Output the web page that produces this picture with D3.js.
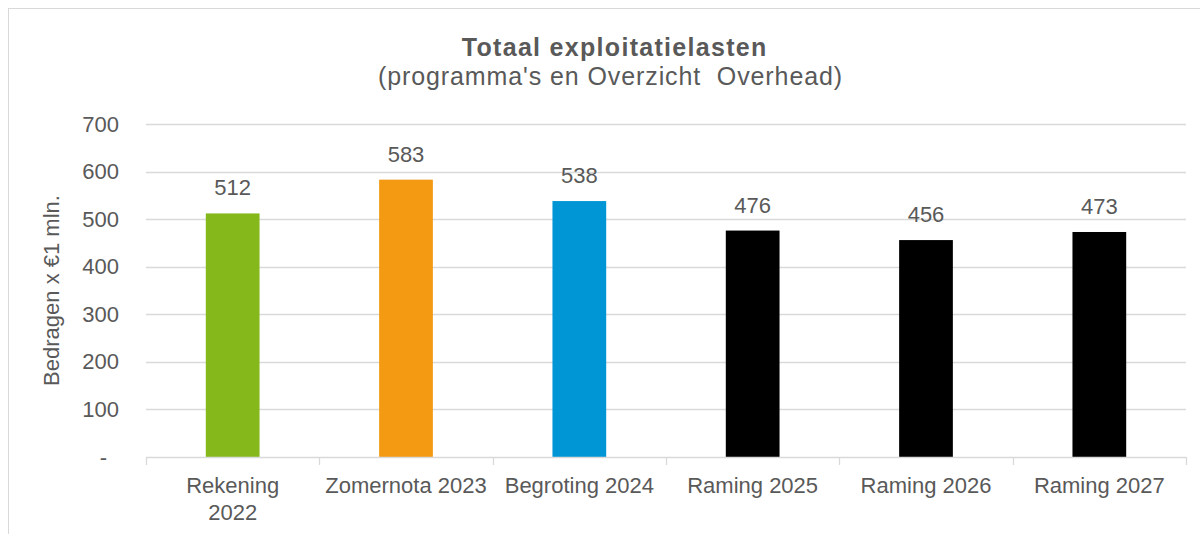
<!DOCTYPE html>
<html><head><meta charset="utf-8">
<script src="https://cdn.jsdelivr.net/npm/d3@7"></script>
<style>
html,body{margin:0;padding:0;background:#fff;}
svg{display:block;font-family:"Liberation Sans",Arial,sans-serif;}
</style></head>
<body>
<svg id="chart" width="1200" height="534"></svg>
<script>
const categories = ["Rekening\n2022", "Zomernota 2023", "Begroting 2024", "Raming 2025", "Raming 2026", "Raming 2027"];
const values = [512, 583, 538, 476, 456, 473];
const barColors = ["#84b81b", "#f39a12", "#0096d6", "#000000", "#000000", "#000000"];
const yTicks = [0, 100, 200, 300, 400, 500, 600, 700];
const titleText = "Totaal exploitatielasten";
const subtitleText = "(programma's en Overzicht  Overhead)";
const yAxisTitle = "Bedragen x €1 mln.";

const svg = d3.select("#chart");
const textColor = "#595959";
const gridColor = "#d9d9d9";
const margin = {left: 146, right: 1186, top: 124, bottom: 457};

// frame
svg.append("rect").attr("x", 8.5).attr("y", 8.5).attr("width", 1230).attr("height", 560)
  .attr("fill", "#fff").attr("stroke", gridColor).attr("stroke-width", 1);

const x = d3.scaleBand().domain(categories).range([margin.left, margin.right])
  .paddingInner(0.69).paddingOuter(0.345);
const y = d3.scaleLinear().domain([0, 700]).range([margin.bottom, margin.top]);

// gridlines
svg.append("g").selectAll("line").data(yTicks.filter(d => d > 0)).join("line")
  .attr("x1", margin.left).attr("x2", margin.right)
  .attr("y1", d => Math.round(y(d)) + 0.5).attr("y2", d => Math.round(y(d)) + 0.5)
  .attr("stroke", gridColor).attr("stroke-width", 1.3);

// y axis labels
const yAxis = d3.axisLeft(y).tickValues(yTicks).tickSize(0).tickPadding(0)
  .tickFormat(d => d === 0 ? "-" : d3.format("d")(d));
const gy = svg.append("g").attr("transform", `translate(${margin.left - 27},0)`).call(yAxis);
gy.select(".domain").remove();
gy.selectAll("text").attr("fill", textColor).attr("font-size", 22)
  .attr("font-family", "Liberation Sans, Arial, sans-serif")
  .attr("dx", d => d === 0 ? -12 : 0);

// bars
svg.append("g").selectAll("rect").data(values).join("rect")
  .attr("x", (d, i) => x(categories[i]))
  .attr("width", x.bandwidth())
  .attr("y", d => y(d))
  .attr("height", d => y(0) - y(d))
  .attr("fill", (d, i) => barColors[i]);

// value labels
svg.append("g").selectAll("text").data(values).join("text")
  .attr("x", (d, i) => x(categories[i]) + x.bandwidth() / 2)
  .attr("y", d => y(d) - 18)
  .attr("text-anchor", "middle").attr("font-size", 22).attr("fill", textColor)
  .text(d => d);

// x axis line and ticks
const step = x.step();
const bounds = d3.range(categories.length + 1).map(i => margin.left + i * step);
svg.append("line").attr("x1", margin.left).attr("x2", margin.right)
  .attr("y1", y(0) + 0.5).attr("y2", y(0) + 0.5).attr("stroke", gridColor).attr("stroke-width", 1.3);
svg.append("g").selectAll("line").data(bounds).join("line")
  .attr("x1", d => Math.round(d) + 0.5).attr("x2", d => Math.round(d) + 0.5)
  .attr("y1", y(0)).attr("y2", y(0) + 8).attr("stroke", gridColor).attr("stroke-width", 1.3);

// x labels
const xl = svg.append("g").selectAll("text").data(categories).join("text")
  .attr("x", d => x(d) + x.bandwidth() / 2)
  .attr("y", 493)
  .attr("text-anchor", "middle").attr("font-size", 22).attr("fill", textColor);
xl.each(function(d) {
  const lines = d.split("\n");
  d3.select(this).selectAll("tspan").data(lines).join("tspan")
    .attr("x", x(d) + x.bandwidth() / 2)
    .attr("dy", (l, i) => i === 0 ? 0 : 27)
    .text(l => l);
});

// titles
svg.append("text").attr("x", 614 + 0.7).attr("y", 56).attr("text-anchor", "middle")
  .attr("font-size", 25).attr("font-weight", "bold").attr("letter-spacing", 1.3)
  .attr("fill", textColor).text(titleText);
svg.append("text").attr("x", 610 + 0.5).attr("y", 85).attr("text-anchor", "middle")
  .attr("font-size", 25).attr("letter-spacing", 0.9).attr("fill", textColor).attr("xml:space", "preserve")
  .style("white-space", "pre").text(subtitleText);

// y axis title
svg.append("text").attr("transform", `translate(59,${(margin.top + margin.bottom) / 2}) rotate(-90)`)
  .attr("text-anchor", "middle").attr("font-size", 22).attr("fill", textColor).text(yAxisTitle);
</script>
</body></html>
